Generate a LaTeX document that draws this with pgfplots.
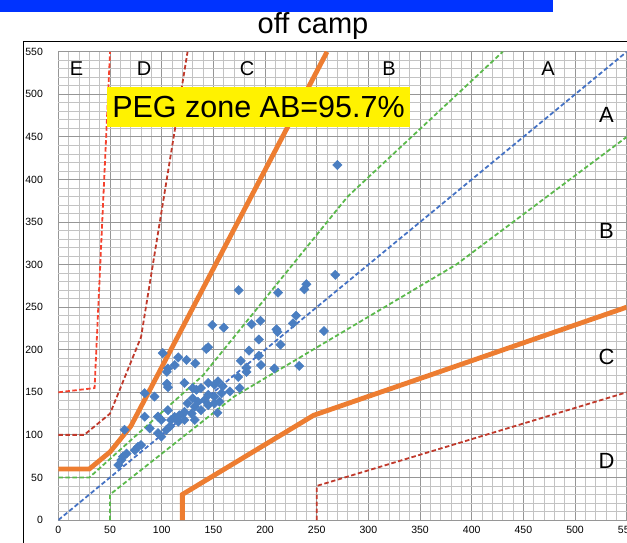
\documentclass[border=0pt]{standalone}
\usepackage{pgfplots}
\pgfplotsset{compat=1.18}
\usepackage{fontspec}
\setmainfont{Liberation Sans}
\definecolor{barblue}{RGB}{0,51,255}
\definecolor{lblue}{RGB}{68,114,196}
\definecolor{pblue}{RGB}{74,126,193}
\definecolor{lgreen}{RGB}{90,185,75}
\definecolor{lorange}{RGB}{237,125,49}
\definecolor{dred}{RGB}{192,57,43}
\definecolor{lred}{RGB}{245,65,45}
\definecolor{gridmajor}{RGB}{150,150,150}
\definecolor{gridminor}{RGB}{195,195,195}
\begin{document}
\begin{tikzpicture}[x=1pt,y=1pt]
\useasboundingbox (0,0) rectangle (627,542);
\fill[barblue] (0,530) rectangle (553,542);
\node[font=\fontsize{29}{32}\selectfont] at (313,516) {off camp};
\draw[line width=1.5pt] (23.3,-20) -- (23.3,500.3) -- (700,500.3);
\begin{axis}[at={(58.4pt,22pt)}, anchor=south west, scale only axis,
  width=568.3pt, height=468.2pt,
  xmin=0, xmax=550, ymin=0, ymax=550,
  xtick={0,50,...,550}, ytick={0,50,...,550},
  minor xtick={0,10,...,550}, minor ytick={0,10,...,550},
  grid=both,
  major grid style={color=gridmajor, line width=0.9pt},
  minor grid style={color=gridminor, line width=0.9pt},
  axis line style={draw=none},
  major tick length=0pt, minor tick length=0pt,
  tick label style={font=\fontsize{10.5}{12}\selectfont},
  /pgf/number format/assume math mode=true,
  xticklabel style={yshift=-3pt},
  yticklabel style={xshift=-12pt},
  ]
% zone lines
\addplot[lblue, line width=1.8pt, dash pattern=on 4.5pt off 2.5pt] coordinates {(0,0) (550,550)};
\addplot[lgreen, line width=1.8pt, dash pattern=on 4.5pt off 2.5pt] coordinates {(0,50) (30,50) (140,170) (280,380) (430,550)};
\addplot[lgreen, line width=1.8pt, dash pattern=on 4.5pt off 2.5pt] coordinates {(50,0) (50,30) (170,145) (385,300) (550,450)};
\addplot[lorange, line width=4.8pt] coordinates {(0,60) (30,60) (50,80) (70,110) (260,550)};
\addplot[lorange, line width=4.8pt] coordinates {(120,0) (120,30) (247,123) (550,250)};
\addplot[dred, line width=1.8pt, dash pattern=on 4.5pt off 2.5pt] coordinates {(0,100) (25,100) (50,125) (80,215) (125,550)};
\addplot[dred, line width=1.8pt, dash pattern=on 4.5pt off 2.5pt] coordinates {(250,0) (250,40) (550,150)};
\addplot[lred, line width=1.8pt, dash pattern=on 4.5pt off 2.5pt] coordinates {(0,150) (35,155) (50,550)};
% data
\addplot[only marks, color=pblue, mark=square*, mark size=3.3pt, mark options={rotate=45, fill=pblue, draw=pblue}] coordinates {
(270,417) (268,288) (240,277) (238,271) (174.5,270) (212.6,267) (230,240) (227,231) (257,222)
(187,230) (195.5,234) (211,224) (212,221) (194,212) (215,206) (184.5,199) (194,193) (176.5,187)
(196,182) (209,178) (233,181) (182,179) (149,229) (160,226) (143,201) (145,203) (101,196)
(116,191) (124,188) (132.5,184) (112.6,182) (106,178)
(105,174) (105,160) (106,156) (122,161) (130,155) (133.5,153) (138,155) (145,161) (151,159)
(154.5,163) (159,157) (158,149) (151,145) (145,147) (141.6,141) (135,139) (130,143) (125,137)
(132,133) (138,129) (145,135) (151,137) (156,139) (129,125) (122,127) (117,123) (112.5,121)
(109,117.5) (116,115.5) (122,117.5) (132,117.5) (106,129) (108,110) (99.6,117.5) (96.4,121.4)
(88.4,107.7) (83.5,121.4) (93,145) (83.5,149) (64,106) (80,88) (74,82) (77,86) (66,78)
(61,70.5) (58,64.6) (62.5,74.4) (96.4,102) (104.4,105.7) (99.6,98)
(174,168) (182,174) (175.5,155) (166,151) (154,126)
};
\end{axis}
\fill[yellow] (107,415) rectangle (410,455);
\node[font=\fontsize{30.5}{33}\selectfont] at (258.5,435) {PEG zone AB=95.7\%};
\begin{scope}[every node/.style={font=\fontsize{20}{22}\selectfont}]
\node at (76.5,473) {E};
\node at (144,473) {D};
\node at (247,473) {C};
\node at (389,473) {B};
\node at (548,473) {A};
\end{scope}
\begin{scope}[every node/.style={font=\fontsize{22}{24}\selectfont}]
\node at (606.5,427) {A};
\node at (606.5,311) {B};
\node at (606.5,185) {C};
\node at (606.5,81.5) {D};
\end{scope}
\end{tikzpicture}
\end{document}
